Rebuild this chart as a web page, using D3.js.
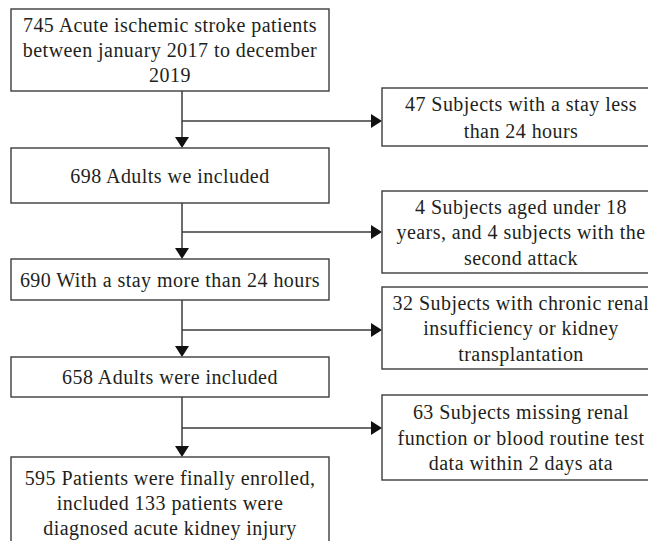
<!DOCTYPE html>
<html>
<head>
<meta charset="utf-8">
<script src="https://cdn.jsdelivr.net/npm/d3@7.9.0/dist/d3.min.js"></script>
<style>
  html, body { margin: 0; padding: 0; background: #fff; overflow: hidden; }
  svg { display: block; }
  svg text { font-family: 'Liberation Serif', 'DejaVu Serif', 'Liberation Sans', serif; letter-spacing: 0.45px; }
</style>
</head>
<body>
<script>
// ─── data: box texts ─────────────────────────────────────────
const mainSteps = [
  ['745 Acute ischemic stroke patients', 'between january 2017 to december', '2019'],
  ['698 Adults we included'],
  ['690 With a stay more than 24 hours'],
  ['658 Adults were included'],
  ['595 Patients were finally enrolled,', 'included 133 patients were', 'diagnosed acute kidney injury']
];
const exclusions = [
  ['47 Subjects with a stay less', 'than 24 hours'],
  ['4 Subjects aged under 18', 'years, and 4 subjects with the', 'second attack'],
  ['32 Subjects with chronic renal', 'insufficiency or kidney', 'transplantation'],
  ['63 Subjects missing renal', 'function or blood routine test', 'data within 2 days ata']
];

// ─── layout ──────────────────────────────────────────────────
const W = 648, H = 541;
const LINE_H = 25;
const INK = '#231f20', STROKE = '#3c3c3c';

// main column boxes [top, bottom]
const mainY = [[9, 91], [148, 203], [259, 300], [357, 397], [457, 549]];
const mainX = [11, 329];
const spineX = 182;
// exclusion boxes [top, bottom]
const exclY = [[88, 146], [191, 273], [287, 369], [395, 480]];
const exclX = [382, 660];

const svg = d3.select('body').append('svg')
  .attr('width', W).attr('height', H);

function drawBox(x0, x1, y0, y1, lines, lineH) {
  const g = svg.append('g');
  g.append('rect')
    .attr('x', x0).attr('y', y0)
    .attr('width', x1 - x0).attr('height', y1 - y0)
    .attr('fill', '#fff')
    .attr('stroke', STROKE).attr('stroke-width', 1.4);
  const cx = (x0 + x1) / 2;
  const midY = (y0 + y1) / 2;
  const start = midY - (lines.length - 1) * lineH / 2;
  lines.forEach((t, i) => {
    g.append('text')
      .attr('x', cx).attr('y', start + i * lineH)
      .attr('dy', '0.35em')
      .attr('text-anchor', 'middle')
      .attr('font-size', 20)
      .attr('fill', INK)
      .text(t);
  });
}

function arrowHead(x, y, dir) {
  // tip at (x,y)
  const s = 7, l = 11;
  const pts = dir === 'down'
    ? [[x, y], [x - s, y - l], [x + s, y - l]]
    : [[x, y], [x - l, y - s], [x - l, y + s]];
  svg.append('path')
    .attr('d', d3.line()(pts) + 'Z')
    .attr('fill', '#111');
}

// connectors
const lineG = svg.append('g')
  .attr('stroke', STROKE).attr('stroke-width', 1.5).attr('fill', 'none');

mainY.slice(0, -1).forEach((yb, i) => {
  const nextTop = mainY[i + 1][0];
  lineG.append('line')
    .attr('x1', spineX).attr('x2', spineX)
    .attr('y1', yb[1]).attr('y2', nextTop - 8);
  arrowHead(spineX, nextTop, 'down');
  // branch to exclusion box
  const by = Math.round((yb[1] + nextTop) / 2) + 1;
  lineG.append('line')
    .attr('x1', spineX).attr('x2', exclX[0] - 8)
    .attr('y1', by).attr('y2', by);
  arrowHead(exclX[0], by, 'right');
});

mainSteps.forEach((lines, i) =>
  drawBox(mainX[0], mainX[1], mainY[i][0], mainY[i][1], lines, LINE_H));

exclusions.forEach((lines, i) =>
  drawBox(exclX[0], exclX[1], exclY[i][0], exclY[i][1], lines, i === 0 ? 27 : 25.5));
</script>
</body>
</html>
